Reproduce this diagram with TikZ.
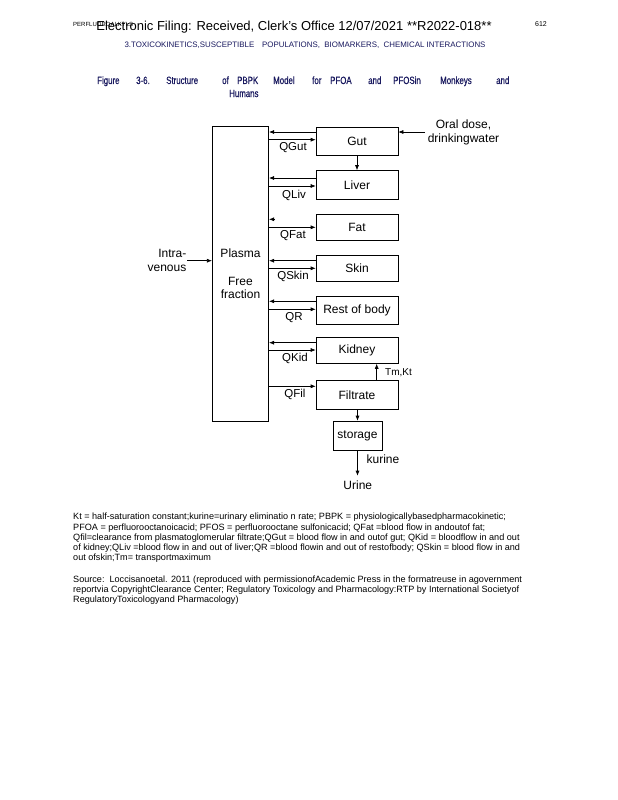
\documentclass[tikz,border=0pt]{standalone}
\usepackage{fontspec}
\setmainfont{Liberation Sans}
\newfontfamily\narrowfont[FakeStretch=0.75,FakeBold=0.6]{Liberation Sans}
\usetikzlibrary{arrows.meta}
\definecolor{capblue}{RGB}{25,25,95}

\tikzset{
  organ/.style={draw, line width=0.6pt, minimum width=82pt, minimum height=28pt,
    inner sep=0pt, font=\fontsize{12}{14}\selectfont},
  flow/.style={draw, line width=0.6pt, -{Latex[length=5pt,width=4pt]}},
  qlabel/.style={inner sep=0pt, font=\fontsize{11.5}{13}\selectfont},
  note/.style={inner sep=0pt, anchor=west, align=left,
    font=\fontsize{9.1}{10.3}\selectfont},
  capword/.style={inner sep=0pt, anchor=base west, text=capblue,
    font=\narrowfont\fontsize{10.5}{12}\selectfont}
}

\begin{document}
\begin{tikzpicture}[x=1pt,y=-1pt]
    \fill[white] (0,0) rectangle (618,800);
    \useasboundingbox (0,0) rectangle (618,800);

    % page header
    \node[inner sep=0pt, anchor=west, font=\fontsize{6}{7}\selectfont] (runhead) at (73,24) {PERFLUOROALKYLS};
    \node[inner sep=0pt, font=\fontsize{13}{15}\selectfont] (stamp) at (294,27) {Electronic Filing: Received, Clerk's Office 12/07/2021 **R2022-018**};
    \node[inner sep=0pt, font=\fontsize{7}{8}\selectfont] (pageno) at (541,24) {612};
    \node[inner sep=0pt, text=capblue, font=\fontsize{7.9}{9}\selectfont] (chapter) at (305,45)
      {3.TOXICOKINETICS,SUSCEPTIBLE\quad POPULATIONS,\ \ BIOMARKERS,\ \ CHEMICAL INTERACTIONS};

    % caption
    \node[capword] (w1) at (97,84) {Figure};
    \node[capword] (w2) at (136,84) {3-6.};
    \node[capword] (w3) at (166,84) {Structure};
    \node[capword] (w4) at (222,84) {of};
    \node[capword] (w5) at (237,84) {PBPK};
    \node[capword] (w6) at (273,84) {Model};
    \node[capword] (w7) at (312,84) {for};
    \node[capword] (w8) at (330,84) {PFOA};
    \node[capword] (w9) at (368,84) {and};
    \node[capword] (w10) at (393,84) {PFOSin};
    \node[capword] (w11) at (440,84) {Monkeys};
    \node[capword] (w12) at (496,84) {and};
    \node[capword] (w13) at (229,97) {Humans};

    % compartments
    \node[organ, minimum width=56.5pt, minimum height=294.5pt, align=center] (plasma) at (240.5,273.75)
      {Plasma\\[14pt]Free\\[-1pt]fraction};
    \node[organ, minimum height=27.5pt] (gut) at (357,141.5) {Gut};
    \node[organ, minimum height=29pt] (liver) at (357,185) {Liver};
    \node[organ, minimum height=26pt] (fat) at (357,227) {Fat};
    \node[organ, minimum height=26pt] (skin) at (357,268.5) {Skin};
    \node[organ] (rest) at (357,310.5) {Rest of body};
    \node[organ, minimum height=26pt] (kidney) at (357,350.5) {Kidney};
    \node[organ, minimum height=29pt] (filtrate) at (357,395) {Filtrate};
    \node[organ, minimum width=49pt, minimum height=29pt] (storage) at (357.5,435.5) {storage};

    % inputs
    \node[inner sep=0pt, align=center, font=\fontsize{12}{14}\selectfont] (oral) at (463.5,132.5) {Oral dose,\\drinkingwater};
    \coordinate (oralstart) at (425,132);
    \draw[flow] (oralstart) -- ([yshift=9.5pt]gut.east);
    \node[inner sep=0pt, anchor=east, align=right, font=\fontsize{12}{14.6}\selectfont] (iv) at (186.5,260.5) {Intra-\\venous};
    \draw[flow] (187,260.7) -- (plasma.west |- 0,260.7);

    % blood flows to and from plasma
    \foreach \org/\outy/\iny in {gut/9.5/1.8, liver/7/-1, skin/7.8/0.2, rest/9.2/1.2, kidney/7.8/0.5}{
      \draw[flow] ([yshift=\outy pt]\org.west) -- ([yshift=\outy pt]\org.west -| plasma.east);
      \draw[flow] ([yshift=\iny pt]\org.west -| plasma.east) -- ([yshift=\iny pt]\org.west);
    }
    \draw[flow] ([yshift=7.7pt,xshift=6pt]fat.west -| plasma.east) -- ([yshift=7.7pt]fat.west -| plasma.east);
    \draw[flow] ([yshift=-0.3pt]fat.west -| plasma.east) -- ([yshift=-0.3pt]fat.west);
    \draw[flow] ([yshift=8.7pt]filtrate.west -| plasma.east) -- ([yshift=8.7pt]filtrate.west);

    \node[qlabel] (qgut) at (293,148) {QGut};
    \node[qlabel] (qliv) at (294,195) {QLiv};
    \node[qlabel] (qfat) at (293,236) {QFat};
    \node[qlabel] (qskin) at (293,276) {QSkin};
    \node[qlabel] (qr) at (294,318) {QR};
    \node[qlabel] (qkid) at (295,358) {QKid};
    \node[qlabel] (qfil) at (295,394) {QFil};

    % gut, kidney and urine
    \draw[flow] (gut.south) -- (liver.north);
    \draw[flow] ([xshift=19.7pt]filtrate.north) -- ([xshift=19.7pt]kidney.south);
    \node[inner sep=0pt, anchor=west, font=\fontsize{10}{12}\selectfont] (tmkt) at (385,373) {Tm,Kt};
    \draw[flow] (filtrate.south -| storage.north) -- (storage.north);
    \node[inner sep=0pt, font=\fontsize{12}{14}\selectfont] (urine) at (357.8,485.5) {Urine};
    \coordinate (urinetop) at (357.5,475.7);
    \draw[flow] (storage.south) -- (urinetop);
    \node[qlabel, font=\fontsize{12}{14}\selectfont] (kurine) at (383,459.5) {kurine};

    % notes
    \node[note] (abbrev) at (73,538)
      {Kt = half-saturation constant;kurine=urinary eliminatio n rate; PBPK = physiologicallybasedpharmacokinetic;\\
       PFOA = perfluorooctanoicacid; PFOS = perfluorooctane sulfonicacid; QFat =blood flow in andoutof fat;\\
       Qfil=clearance from plasmatoglomerular filtrate;QGut = blood flow in and outof gut; QKid = bloodflow in and out\\
       of kidney;QLiv =blood flow in and out of liver;QR =blood flowin and out of restofbody; QSkin = blood flow in and\\
       out ofskin;Tm= transportmaximum};
    \node[note] (source) at (73,590)
      {Source:\ \ Loccisanoetal. 2011 (reproduced with permissionofAcademic Press in the formatreuse in agovernment\\
       reportvia CopyrightClearance Center; Regulatory Toxicology and Pharmacology:RTP by International Societyof\\
       RegulatoryToxicologyand Pharmacology)};

\end{tikzpicture}
\end{document}
